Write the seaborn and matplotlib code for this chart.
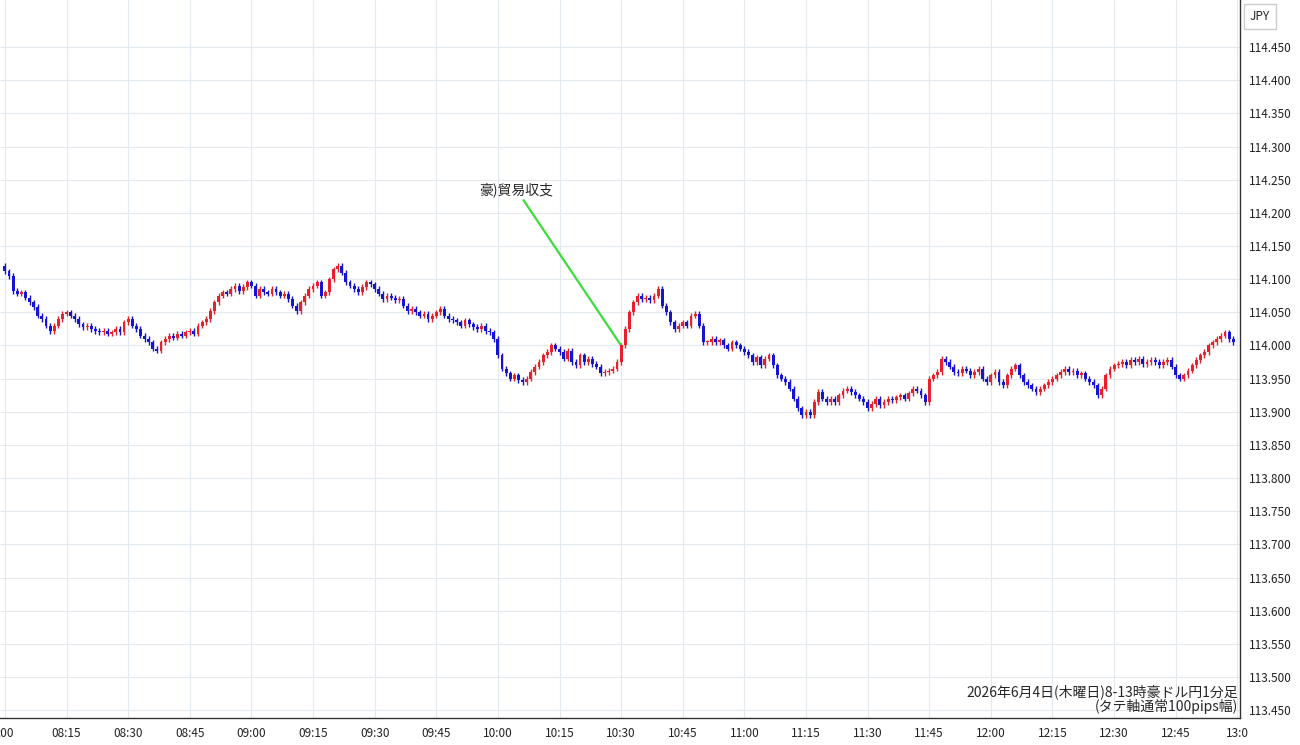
import matplotlib
matplotlib.use("Agg")
import matplotlib.pyplot as plt
import seaborn as sns
import numpy as np
import pandas as pd

q = [
[114.112,114.105,114.082,114.078,114.080,114.072,114.065,114.058,114.045,114.040,114.030,114.022,114.030,114.040,114.048],
[114.050,114.045,114.040,114.032,114.028,114.030,114.025,114.022,114.020,114.022,114.018,114.020,114.025,114.020,114.035],
[114.040,114.030,114.025,114.015,114.010,114.005,113.995,113.992,114.005,114.010,114.015,114.012,114.018,114.015,114.020],
[114.022,114.018,114.030,114.035,114.040,114.052,114.065,114.075,114.080,114.078,114.085,114.090,114.082,114.088,114.095],
[114.090,114.075,114.085,114.080,114.078,114.085,114.080,114.075,114.078,114.070,114.060,114.052,114.065,114.075,114.085],
[114.090,114.095,114.075,114.080,114.100,114.115,114.120,114.110,114.095,114.090,114.085,114.080,114.088,114.095,114.092],
[114.085,114.078,114.070,114.075,114.072,114.068,114.070,114.060,114.052,114.055,114.050,114.045,114.048,114.040,114.045],
[114.050,114.055,114.045,114.040,114.038,114.035,114.030,114.038,114.032,114.028,114.025,114.030,114.022,114.020,114.010],
[113.985,113.965,113.958,113.950,113.955,113.948,113.945,113.950,113.960,113.968,113.975,113.985,113.990,114.000,113.995],
[113.990,113.980,113.992,113.975,113.970,113.985,113.975,113.980,113.972,113.968,113.958,113.960,113.962,113.965,113.975],
[114.000,114.025,114.050,114.065,114.075,114.070,114.072,114.068,114.075,114.085,114.060,114.050,114.035,114.025,114.030],
[114.035,114.030,114.045,114.048,114.030,114.005,114.005,114.010,114.005,114.008,114.000,113.995,114.005,114.000,113.995],
[113.990,113.985,113.975,113.982,113.970,113.980,113.985,113.970,113.955,113.950,113.945,113.935,113.920,113.905,113.895],
[113.900,113.895,113.915,113.930,113.920,113.915,113.920,113.915,113.925,113.932,113.935,113.930,113.925,113.920,113.915],
[113.905,113.912,113.920,113.910,113.915,113.920,113.918,113.922,113.925,113.920,113.928,113.935,113.932,113.925,113.915],
[113.950,113.955,113.960,113.980,113.975,113.968,113.960,113.958,113.965,113.962,113.955,113.960,113.965,113.950,113.945],
[113.955,113.960,113.945,113.940,113.955,113.965,113.970,113.955,113.945,113.940,113.935,113.930,113.935,113.940,113.945],
[113.950,113.955,113.960,113.965,113.960,113.962,113.955,113.958,113.950,113.945,113.940,113.925,113.935,113.955,113.965],
[113.970,113.972,113.975,113.970,113.978,113.975,113.980,113.972,113.975,113.978,113.975,113.970,113.975,113.978,113.968],
[113.955,113.950,113.955,113.962,113.970,113.978,113.985,113.990,114.000,114.005,114.010,114.015,114.020,114.010,114.005],
]
closes = [v for block in q for v in block]
first_open = 114.120
tick_labels = [":00","08:15","08:30","08:45","09:00","09:15","09:30","09:45","10:00","10:15","10:30",
               "10:45","11:00","11:15","11:30","11:45","12:00","12:15","12:30","12:45","13:0"]
y_ticks = [round(113.45 + 0.05*i, 3) for i in range(21)]
event_label = "豪)貿易収支"
event_minute = 150
event_price = 114.000

n = len(closes)
opens = [first_open] + closes[:-1]
df = pd.DataFrame({"m": np.arange(n), "o": opens, "c": closes})
df["hi"] = df[["o", "c"]].max(axis=1) + 0.004
df["lo"] = df[["o", "c"]].min(axis=1) - 0.004

sns.set_theme(style="white")
plt.rcParams['font.family'] = ['Noto Sans CJK JP', 'DejaVu Sans']

fig = plt.figure(figsize=(13, 7.45), dpi=100)
ax = fig.add_axes([0.0, 0.036, 0.954, 0.964])
RED, BLUE = "#e8202a", "#1414d2"
cols = [RED if c >= o else BLUE for o, c in zip(df.o, df.c)]
ax.vlines(df.m, df.lo, df.hi, colors=cols, lw=1, zorder=3)
body = (df.c - df.o).abs().clip(lower=0.0015)
ax.bar(df.m, body, bottom=df[["o", "c"]].min(axis=1), width=0.7, color=cols, zorder=4, lw=0)

ax.set_xlim(-1.2, 300.7)
ax.set_ylim(113.438, 114.521)
ax.set_xticks(np.arange(0, 301, 15))
ax.set_xticklabels(tick_labels, fontsize=8.5, color="#222")
ax.set_yticks(y_ticks)
ax.set_yticklabels([f"{v:.3f}" for v in y_ticks], fontsize=8.5, color="#222")
ax.yaxis.tick_right()
ax.tick_params(axis="both", length=0, pad=6)
ax.grid(True, color="#e3eaef", lw=0.8)
for s in ["top", "left"]:
    ax.spines[s].set_visible(False)
for s in ["right", "bottom"]:
    ax.spines[s].set_color("#333")
    ax.spines[s].set_linewidth(1)

ax.annotate(event_label, xy=(event_minute, event_price), xytext=(124.5, 114.224),
            fontsize=10, ha="center", va="bottom",
            arrowprops=dict(arrowstyle="-", color="#3cdc3c", lw=1.6, shrinkA=0, shrinkB=0))
ax.text(0.998, 0.006, "2026年6月4日(木曜日)8-13時豪ドル円1分足\n(タテ軸通常100pips幅)",
        transform=ax.transAxes, ha="right", va="bottom", fontsize=10, linespacing=0.95)
fig.text(0.969, 0.978, "JPY", fontsize=8.5, ha="center", va="center",
         bbox=dict(boxstyle="square,pad=0.5", fc="white", ec="#ccc"))
fig.savefig("out.png", dpi=100)
